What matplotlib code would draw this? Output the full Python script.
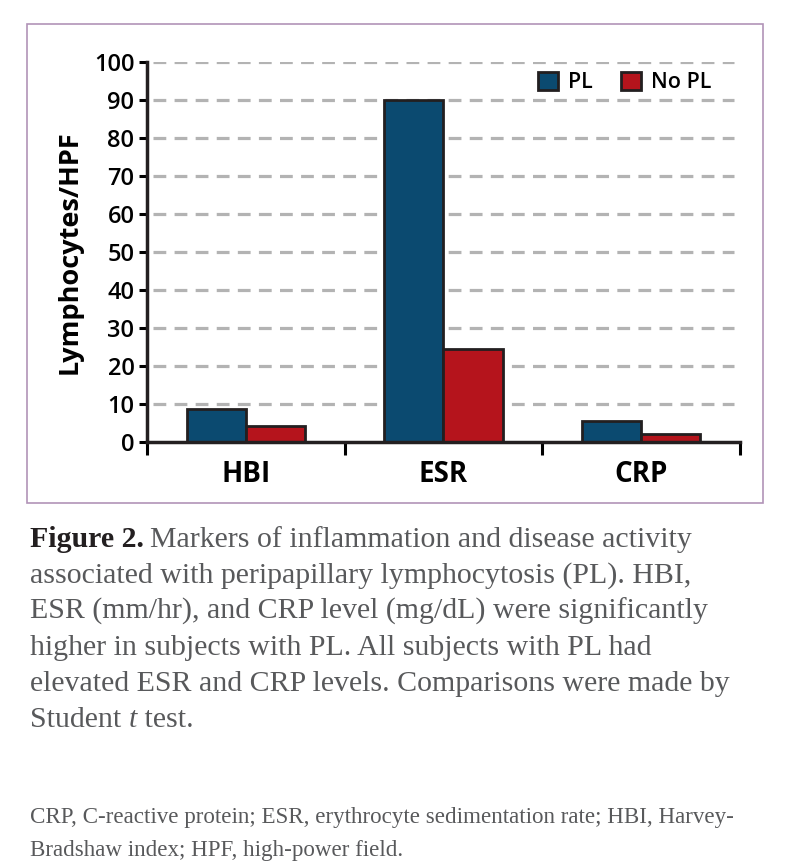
import matplotlib.pyplot as plt
import numpy as np
from matplotlib.patches import Rectangle, Patch

categories = ['HBI', 'ESR', 'CRP']
pl_values = [8.6, 90, 5.4]
no_pl_values = [4.3, 24.5, 2.0]
series_names = ['PL', 'No PL']
y_ticks = [0, 10, 20, 30, 40, 50, 60, 70, 80, 90, 100]

caption_lines = [
    "Markers of inflammation and disease activity",
    "associated with peripapillary lymphocytosis (PL). HBI,",
    "ESR (mm/hr), and CRP level (mg/dL) were significantly",
    "higher in subjects with PL. All subjects with PL had",
    "elevated ESR and CRP levels. Comparisons were made by",
]
footnote_lines = [
    "CRP, C-reactive protein; ESR, erythrocyte sedimentation rate; HBI, Harvey-",
    "Bradshaw index; HPF, high-power field.",
]

blue = '#0b4a70'
red = '#b5141c'
edge = '#231f20'
sans = 'Open Sans'
serif = 'Liberation Serif'

fig = plt.figure(figsize=(7.92, 8.64), dpi=100)

# purple frame round the chart
fig.patches.append(Rectangle((27 / 792, 1 - 503 / 864), 736 / 792, 479 / 864,
                             transform=fig.transFigure, fill=False,
                             edgecolor='#b193b8', linewidth=1.2))

ax = fig.add_axes([147 / 792, 1 - 442 / 864, 593 / 792, 380 / 864])
x = np.arange(len(categories))
w = 0.3
ax.bar(x - w / 2, pl_values, w, color=blue, edgecolor=edge, linewidth=2, zorder=3, label=series_names[0])
ax.bar(x + w / 2, no_pl_values, w, color=red, edgecolor=edge, linewidth=2, zorder=3, label=series_names[1])

ax.set_xlim(-0.5, len(categories) - 0.5)
ax.set_ylim(0, 100)
ax.set_yticks(y_ticks)
ax.set_yticklabels([str(v) for v in y_ticks], fontsize=17, fontfamily=sans, fontweight='semibold')
ax.set_xticks(x)
ax.set_xticklabels(categories, fontsize=20, fontfamily=sans, fontweight='bold')
ax.tick_params(axis='x', which='major', length=0, pad=13)
ax.set_xticks(np.arange(len(categories) + 1) - 0.5, minor=True)
ax.tick_params(axis='x', which='minor', length=9, width=2.2, direction='out')
ax.tick_params(axis='y', length=6, width=2.2, pad=3)

for s in ['top', 'right']:
    ax.spines[s].set_visible(False)
for s in ['left', 'bottom']:
    ax.spines[s].set_linewidth(2.5)
    ax.spines[s].set_color(edge)
    ax.spines[s].set_zorder(4)

for v in y_ticks[1:]:
    ax.axhline(v, xmin=0.01, xmax=0.99, color='#b3b3b3', linewidth=2.3,
               linestyle=(0, (4, 2.6)), zorder=1)

ax.set_ylabel('Lymphocytes/HPF', fontsize=19.5, fontfamily=sans, fontweight='bold', labelpad=8)

handles = [Patch(facecolor=blue, edgecolor=edge, linewidth=2),
           Patch(facecolor=red, edgecolor=edge, linewidth=2)]
leg = ax.legend(handles, series_names, loc='upper right', bbox_to_anchor=(0.985, 1.025),
                ncol=2, frameon=False, handlelength=0.9, handleheight=0.9,
                handletextpad=0.5, columnspacing=1.3,
                prop={'family': sans, 'weight': 'semibold', 'size': 15.5})

# caption
fig.canvas.draw()
renderer = fig.canvas.get_renderer()
cap_size = 21.5
y0 = 1 - 547 / 864
dy = 36 / 864
head = fig.text(30 / 792, y0, 'Figure 2.', fontsize=cap_size, fontfamily=serif,
                fontweight='bold', color='#231f20', va='baseline')
bb = head.get_window_extent(renderer)
fig.text(bb.x1 / 792 + 6 / 792, y0, caption_lines[0], fontsize=cap_size,
         fontfamily=serif, color='#58595b', va='baseline')
for i, line in enumerate(caption_lines[1:], start=1):
    fig.text(30 / 792, y0 - i * dy, line, fontsize=cap_size, fontfamily=serif,
             color='#58595b', va='baseline')
last = fig.text(30 / 792, y0 - 5 * dy, 'Student ', fontsize=cap_size, fontfamily=serif,
                color='#58595b', va='baseline')
bb = last.get_window_extent(renderer)
tt = fig.text(bb.x1 / 792, y0 - 5 * dy, 't', fontsize=cap_size, fontfamily=serif,
              style='italic', color='#58595b', va='baseline')
bb = tt.get_window_extent(renderer)
fig.text(bb.x1 / 792, y0 - 5 * dy, ' test.', fontsize=cap_size, fontfamily=serif,
         color='#58595b', va='baseline')

fy = 1 - 823 / 864
for i, line in enumerate(footnote_lines):
    fig.text(30 / 792, fy - i * 33 / 864, line, fontsize=16.6, fontfamily=serif,
             color='#58595b', va='baseline')

fig.savefig('out.png', dpi=100)
